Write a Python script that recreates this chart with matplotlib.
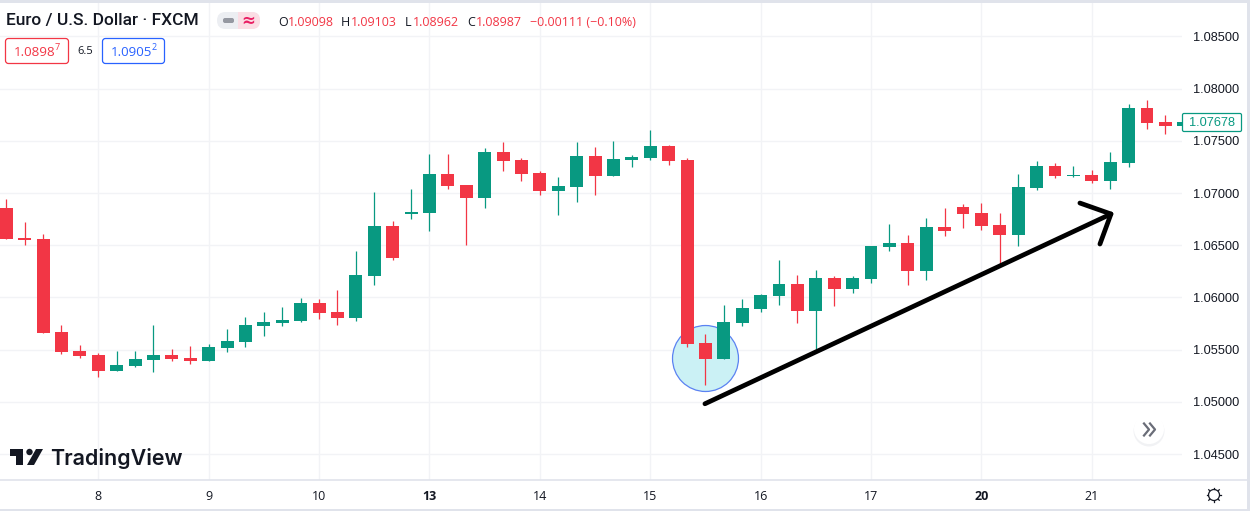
import matplotlib
matplotlib.use('Agg')
import matplotlib.pyplot as plt
from matplotlib.patches import Circle, FancyBboxPatch, Polygon, Rectangle

# EUR/USD 4h candles
opens = [1.06856, 1.06569, 1.06559, 1.05668, 1.05486, 1.05448, 1.05295, 1.05343, 1.05400, 1.05448,
         1.05419, 1.05391, 1.05515, 1.05573, 1.05726, 1.05755, 1.05774, 1.05946, 1.05860, 1.05802,
         1.06205, 1.06684, 1.06799, 1.06808, 1.07182, 1.07077, 1.06952, 1.07393, 1.07316, 1.07192,
         1.07019, 1.07057, 1.07354, 1.07163, 1.07316, 1.07335, 1.07450, 1.07316, 1.05563, 1.05410,
         1.05755, 1.05889, 1.06013, 1.06128, 1.05870, 1.06186, 1.06080, 1.06176, 1.06483, 1.06521,
         1.06253, 1.06674, 1.06866, 1.06808, 1.06693, 1.06598, 1.07048, 1.07259, 1.07163, 1.07172,
         1.07115, 1.07287, 1.07814, 1.07680, 1.07642]
highs = [1.06943, 1.06722, 1.06607, 1.05735, 1.05544, 1.05467, 1.05486, 1.05486, 1.05735, 1.05506,
         1.05534, 1.05553, 1.05697, 1.05812, 1.05860, 1.05908, 1.05994, 1.05985, 1.06071, 1.06444,
         1.07010, 1.06732, 1.07038, 1.07374, 1.07374, 1.07077, 1.07431, 1.07489, 1.07335, 1.07211,
         1.07153, 1.07489, 1.07441, 1.07498, 1.07364, 1.07604, 1.07460, 1.07335, 1.05649, 1.05927,
         1.05985, 1.06032, 1.06358, 1.06214, 1.06262, 1.06205, 1.06205, 1.06492, 1.06703, 1.06598,
         1.06760, 1.06856, 1.06895, 1.06904, 1.06808, 1.07182, 1.07307, 1.07287, 1.07259, 1.07220,
         1.07393, 1.07853, 1.07891, 1.07747, 1.07700]
lows = [1.06559, 1.06502, 1.05659, 1.05458, 1.05419, 1.05237, 1.05295, 1.05333, 1.05285, 1.05391,
        1.05362, 1.05391, 1.05477, 1.05525, 1.05630, 1.05726, 1.05764, 1.05793, 1.05735, 1.05774,
        1.06119, 1.06358, 1.06751, 1.06636, 1.07038, 1.06502, 1.06856, 1.07211, 1.07115, 1.06981,
        1.06789, 1.06914, 1.06981, 1.07163, 1.07249, 1.07316, 1.07268, 1.05525, 1.05161, 1.05410,
        1.05726, 1.05860, 1.05927, 1.05755, 1.05506, 1.05917, 1.06042, 1.06138, 1.06444, 1.06119,
        1.06167, 1.06588, 1.06665, 1.06646, 1.06310, 1.06492, 1.07029, 1.07144, 1.07153, 1.07096,
        1.07038, 1.07249, 1.07613, 1.07565, 1.07630]
closes = [1.06559, 1.06550, 1.05659, 1.05477, 1.05438, 1.05295, 1.05352, 1.05410, 1.05448, 1.05410,
          1.05391, 1.05525, 1.05582, 1.05735, 1.05764, 1.05783, 1.05946, 1.05850, 1.05802, 1.06214,
          1.06684, 1.06377, 1.06818, 1.07182, 1.07067, 1.06952, 1.07393, 1.07307, 1.07182, 1.07019,
          1.07067, 1.07354, 1.07163, 1.07326, 1.07345, 1.07450, 1.07307, 1.05553, 1.05410, 1.05764,
          1.05898, 1.06023, 1.06128, 1.05870, 1.06186, 1.06080, 1.06186, 1.06492, 1.06521, 1.06253,
          1.06674, 1.06636, 1.06799, 1.06684, 1.06598, 1.07057, 1.07259, 1.07163, 1.07172, 1.07115,
          1.07297, 1.07814, 1.07671, 1.07642, 1.07678]

day_ticks = [5, 11, 17, 23, 29, 35, 41, 47, 53, 59]
day_labels = ['8', '9', '10', '13', '14', '15', '16', '17', '20', '21']
bold_days = ['13', '20']
price_ticks = [1.045, 1.05, 1.055, 1.06, 1.065, 1.07, 1.075, 1.08, 1.085]

# drawing on top of the chart, in candle index / price
arrow_x = [37.97, 60.04]
arrow_y = [1.04981, 1.06799]
head_x = [58.35, 60.04, 59.44]
head_y = [1.06904, 1.06799, 1.06511]
circle_x = 37.97
circle_y = 1.05419

RED = '#f23645'
GREEN = '#089981'
BLUE = '#2962ff'
DARK = '#131722'
BORDER = '#e0e3eb'
GRID = '#f2f3f6'

W, H = 1250, 511
fig = plt.figure(figsize=(W / 100, H / 100), dpi=100, facecolor='white')

# main chart, right edge at 1182 px, bottom at 480 px, top at 3 px
ax = fig.add_axes([0, 1 - 480 / H, 1182 / W, 477 / H])
ax.set_xlim(-0.342, 63.9)
ax.set_ylim(1.04251, 1.08820)
for s in ax.spines.values():
    s.set_visible(False)
ax.grid(True, color=GRID, lw=1)
ax.set_axisbelow(True)

ax.yaxis.tick_right()
ax.set_yticks(price_ticks)
ax.set_yticklabels([f'{p:.5f}' for p in price_ticks], family='Liberation Sans', fontsize=9.2, color=DARK)
ax.set_xticks(day_ticks)
ax.set_xticklabels(day_labels, family='Open Sans', fontsize=9, color=DARK)
ax.tick_params(axis='y', length=0, pad=8)
ax.tick_params(axis='x', length=0, pad=7)
for lab in ax.get_xticklabels():
    if lab.get_text() in bold_days:
        lab.set_fontweight('bold')

# highlighted circle sits under the candles
ax.plot([circle_x], [circle_y], 'o', ms=47.5, mfc='#cbf1f5', mec='#5b82f2', mew=0.9, zorder=2)

for i in range(len(opens)):
    c = GREEN if closes[i] >= opens[i] else RED
    ax.vlines(i, lows[i], highs[i], color=c, lw=0.9, zorder=3)
    bottom = min(opens[i], closes[i])
    ax.bar(i, max(abs(closes[i] - opens[i]), 0.0001), width=0.7, bottom=bottom, color=c, lw=0, zorder=4)

ax.plot(arrow_x, arrow_y, color='black', lw=3.4, solid_capstyle='round', zorder=5)
ax.plot(head_x, head_y, color='black', lw=3.4, solid_capstyle='round', solid_joinstyle='round', zorder=5)

# overlay in pixel coordinates for the TradingView chrome
ov = fig.add_axes([0, 0, 1, 1], facecolor='none')
ov.set_xlim(0, W)
ov.set_ylim(H, 0)
ov.axis('off')

ov.add_patch(Rectangle((0, 0), W, 3, color=BORDER, lw=0))
ov.add_patch(Rectangle((1247, 0), 3, H, color=BORDER, lw=0))
ov.add_patch(Rectangle((0, 509.5), W, 1.5, color=BORDER, lw=0))
ov.plot([0, 1247], [480.5, 480.5], color=BORDER, lw=1.2)

ov.text(6, 21, 'Euro / U.S. Dollar · FXCM', family='Roboto', fontsize=12.5, fontweight='medium',
        color=DARK, va='center')

# status pill
ov.add_patch(FancyBboxPatch((217, 12), 43, 17, boxstyle='round,pad=0,rounding_size=8.5', fc='#eceef2', ec='none'))
ov.add_patch(FancyBboxPatch((238, 12), 22, 17, boxstyle='round,pad=0,rounding_size=8', fc='#fbdde4', ec='none'))
ov.add_patch(Rectangle((238, 12), 6, 17, fc='#fbdde4', ec='none'))
ov.add_patch(FancyBboxPatch((223, 18), 11, 5, boxstyle='round,pad=0,rounding_size=2', fc='#9598a1', ec='none'))
ov.text(248.5, 20.5, '≈', family='DejaVu Sans', fontsize=12, fontweight='bold', color='#e91e63', ha='center', va='center')

# OHLC legend
for x, s, col in [(278, 'O', DARK), (288, '1.09098', RED), (341, 'H', DARK), (351, '1.09103', RED),
                  (405, 'L', DARK), (413, '1.08962', RED), (467, 'C', DARK), (476, '1.08987', RED),
                  (530, '−0.00111 (−0.10%)', RED)]:
    ov.text(x, 22, s, family='Open Sans', fontsize=9, color=col, va='center')

# bid / ask boxes
ov.add_patch(FancyBboxPatch((5.5, 38.5), 63, 25, boxstyle='round,pad=0,rounding_size=3', fc='white', ec=RED, lw=0.9))
ov.add_patch(FancyBboxPatch((102.5, 38.5), 62, 25, boxstyle='round,pad=0,rounding_size=3', fc='white', ec=BLUE, lw=0.9))
ov.text(14, 52, '1.0898', family='Open Sans', fontsize=9.6, color=RED, va='center')
ov.text(54.5, 48, '7', family='Open Sans', fontsize=6.5, color=RED, va='center')
ov.text(85, 51.5, '6.5', family='Open Sans', fontsize=8, color=DARK, va='center', ha='center')
ov.text(111, 52, '1.0905', family='Open Sans', fontsize=9.6, color=BLUE, va='center')
ov.text(151.5, 48, '2', family='Open Sans', fontsize=6.5, color=BLUE, va='center')

# last price label
ov.add_patch(FancyBboxPatch((1182.5, 113.5), 59, 18, boxstyle='round,pad=0,rounding_size=1.5', fc='white', ec=GREEN, lw=0.9))
ov.text(1212, 122.5, '1.07678', family='Liberation Sans', fontsize=9.2, color=GREEN, ha='center', va='center')

# TradingView logo
ov.add_patch(Polygon([(10, 449), (23, 449), (23, 465), (16, 465), (16, 456), (10, 456)], fc=DARK, ec='none'))
ov.add_patch(Circle((29.5, 452), 3.2, fc=DARK, ec='none'))
ov.add_patch(Polygon([(36, 449), (43, 449), (34, 465), (27, 465)], fc=DARK, ec='none'))
ov.text(50.5, 465, 'TradingView', family='Inter', fontsize=15.45, fontweight='semibold', color=DARK, va='baseline')

# scroll button
ov.add_patch(Circle((1149, 431), 15.5, fc='#e9eaee', ec='none', alpha=0.6))
ov.add_patch(Circle((1149, 429), 15, fc='white', ec='none'))
ov.plot([1144, 1149, 1144], [423.5, 429.5, 435.5], color='#6a6d78', lw=1.6)
ov.plot([1150, 1155, 1150], [423.5, 429.5, 435.5], color='#6a6d78', lw=1.6)

# settings sun icon
ov.add_patch(Circle((1214, 495), 5.5, fc='white', ec=DARK, lw=0.9))
for dx, dy in [(0, 7), (0, -7), (7, 0), (-7, 0), (5, 5), (-5, 5), (5, -5), (-5, -5)]:
    ov.plot([1214 + dx * 0.9, 1214 + dx * 1.05], [495 + dy * 0.9, 495 + dy * 1.05], color=DARK, lw=0.9)

fig.savefig('out.png', dpi=100)
